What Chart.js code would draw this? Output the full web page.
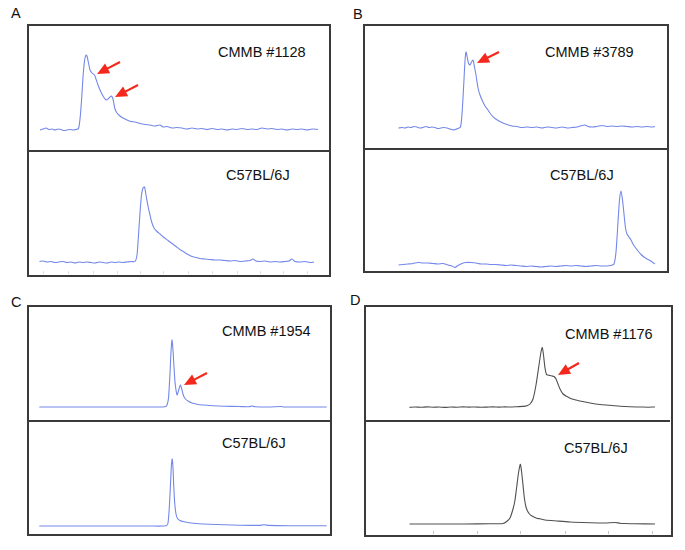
<!DOCTYPE html>
<html>
<head>
<meta charset="utf-8">
<script src="https://cdn.jsdelivr.net/npm/chart.js@4"></script>
<style>
  html, body { margin:0; padding:0; background:#fff; }
  #stage { position:relative; width:685px; height:550px; overflow:hidden; background:#fff;
           font-family: "Liberation Sans", Arial, sans-serif; color:#111; }
  .box { position:absolute; box-sizing:border-box; border:2px solid #3a3a3a; }
  .div { position:absolute; height:2px; background:#3a3a3a; }
  .lbl { position:absolute; font-size:14.5px; line-height:1; white-space:nowrap; }
  .let { position:absolute; font-size:14.5px; line-height:1; }
  canvas { position:absolute; }
</style>
</head>
<body>
<div id="stage">
  <div class="box" style="left:27px;top:24px;width:304px;height:253px"></div>
  <div class="div" style="left:27px;top:150px;width:304px"></div>
  <div class="box" style="left:363px;top:24px;width:306px;height:249px"></div>
  <div class="div" style="left:363px;top:148px;width:306px"></div>
  <div class="box" style="left:27px;top:305px;width:305px;height:231px"></div>
  <div class="div" style="left:27px;top:420px;width:305px"></div>
  <div class="box" style="left:364px;top:305px;width:309px;height:232px"></div>
  <div class="div" style="left:364px;top:420px;width:306px"></div>

  <div class="let" style="left:11px;top:6px">A</div>
  <div class="let" style="left:353px;top:7px">B</div>
  <div class="let" style="left:11px;top:295px">C</div>
  <div class="let" style="left:350px;top:293px">D</div>

  <div class="lbl" style="left:218px;top:45px">CMMB #1128</div>
  <div class="lbl" style="left:226px;top:168px">C57BL/6J</div>
  <div class="lbl" style="left:545px;top:45px">CMMB #3789</div>
  <div class="lbl" style="left:550px;top:168px">C57BL/6J</div>
  <div class="lbl" style="left:222px;top:324px">CMMB #1954</div>
  <div class="lbl" style="left:222px;top:436px">C57BL/6J</div>
  <div class="lbl" style="left:565px;top:327px">CMMB #1176</div>
  <div class="lbl" style="left:564px;top:441px">C57BL/6J</div>
</div>
<script>
// ---------- data (x = elution time units, y = signal units) ----------
const aTopX = [1.0,1.3,1.6,1.9,2.2,2.5,2.8,3.1,3.4,3.7,4.0,4.3,4.6,4.85,5.0,5.15,5.3,5.45,5.6,5.7,5.85,6.0,6.2,6.45,6.6,6.8,7.0,7.3,7.6,7.8,8.0,8.15,8.3,8.5,8.7,9.0,9.3,9.7,10.1,10.5,11.0,11.5,12.0,12.5,13.0,13.3,13.7,14.2,14.7,15.2,15.7,16.2,16.7,17.2,17.7,18.2,18.7,19.2,19.7,20.2,20.7,21.2,21.7,22.2,22.7,23.2,23.7,24.2,24.7,25.2,25.7,26.2,26.7,27.2,27.7,28.2,28.8];
const aTopY = [19,20,21,19.5,20,19,20,19.5,18.5,19,19.5,19,19.5,20.5,30,48,72,88,94,93,86,79,76,74,70,64,59,53,49,50,52,53,50,40,36,33,31,29,27.5,27,25.5,24.5,24,23,24,22,22.5,21,21.5,21,20,21,20,20.5,19.5,20.5,19.5,20,19,20,19.5,20.5,19.5,20,19.5,21,20,20.5,19.5,20,19,20,19.5,20,19,20,19.5];

const aBotX = [0.95,1.3,1.7,2.1,2.5,2.9,3.3,3.7,4.1,4.5,4.9,5.3,5.7,6.1,6.5,6.9,7.3,7.7,8.1,8.5,8.9,9.3,9.7,10.1,10.5,10.7,10.85,11.0,11.15,11.3,11.45,11.6,11.8,12.0,12.2,12.4,12.7,13.0,13.4,13.8,14.2,14.6,15.0,15.4,15.8,16.2,16.6,17.0,17.5,18.0,18.5,19.0,19.5,20.0,20.5,21.0,21.5,22.0,22.3,22.6,23.0,23.5,24.0,24.5,25.0,25.5,25.9,26.2,26.5,27.0,27.5,28.0,28.4];
const aBotY = [13.5,14,13,13.5,12.5,13,13.5,12.5,13,12,13,12.5,13,12.5,12,13,12.5,12,13,12.5,13,12.5,13,13.5,13.5,20,40,62,80,87,88,80,69,60,52,47,43.5,41,37.5,34.5,31.5,28.5,25.5,23,20.5,18.5,17.5,16.5,16,15.5,15,15,14.5,14,14.5,13.5,14,14.5,16,14,13.5,14,13,13.5,13,13.5,14,16,13.5,13,13.5,12.5,13];
const aBotTicks = [1.3,3.8,6.3,8.7,11.0,13.3,15.8,18.2,20.7,23.0,25.3,27.7];

const bTopX = [3.35,3.7,4.0,4.3,4.6,4.9,5.2,5.5,5.8,6.1,6.4,6.7,7.0,7.3,7.6,7.9,8.2,8.5,8.8,9.0,9.3,9.55,9.7,9.85,10.0,10.1,10.2,10.35,10.5,10.65,10.8,10.95,11.1,11.3,11.5,11.75,12.0,12.3,12.6,13.0,13.4,13.8,14.2,14.7,15.2,15.7,16.2,16.7,17.2,17.7,18.2,18.7,19.2,19.7,20.2,20.7,21.2,21.7,22.0,22.3,22.7,23.2,23.7,24.2,24.7,25.2,25.7,26.2,26.7,27.2,27.7,28.2,28.7,29.0];
const bTopY = [21,21.5,21,22,21.5,22.5,22,21,21.5,22.5,21.5,22,21.5,20.5,21,21.5,21,20,19,19.5,20.5,22,35,60,88,97,93,86,84,87,89,82,74,61,54,48,43,39,34.5,30.5,28,26,24.5,23,22.5,21.5,22,21.5,22,21,22,21.5,21,22,21,21.5,22,23.5,24,22.5,22,22.5,23.5,22.5,23,22.5,23,22.5,22,22.5,22,22.5,22,22.5];

const bBotX = [3.35,3.8,4.3,4.8,5.3,5.8,6.3,6.8,7.3,7.8,8.3,8.7,9.0,9.3,9.7,10.1,10.6,11.1,11.6,12.1,12.6,13.1,13.6,14.1,14.6,15.1,15.6,16.1,16.6,17.1,17.6,18.1,18.6,19.1,19.6,20.1,20.6,21.1,21.6,22.1,22.6,23.1,23.6,24.1,24.6,24.9,25.1,25.3,25.45,25.6,25.75,25.9,26.05,26.2,26.4,26.6,26.8,27.0,27.3,27.6,27.9,28.2,28.5,28.8,29.0];
const bBotY = [7,7.5,8,8.5,9.5,9,9,8.5,8,8.5,7,6,4.5,6.5,8.5,9.5,9.5,9,8,8,7.5,7.5,7,6.5,7,6.5,6,5.5,6,5.5,5,5.5,6,5.5,6,6.5,6,6.5,6,5.5,6,6.5,6,6,6.5,8,20,50,72,81,72,58,44,38,35,32,28,25,21,17.5,15,13,11.5,9.5,8];

const cTopX = [1.03,5,9,12,13.6,13.8,13.95,14.1,14.2,14.3,14.4,14.5,14.6,14.7,14.82,15.0,15.13,15.25,15.43,15.6,15.9,16.3,16.8,17.4,18.4,19.5,21.0,22.0,22.3,22.6,24.0,25.2,25.5,27.0,29.77];
const cTopY = [13,13,13,13,13.2,15,22,47,68,80,70,53,38,30,25,31,35,32,25,21.5,19,17,15.8,15,14.3,13.8,13.5,13.3,14,13.3,13,13.5,13,13,13];

const cBotX = [1.03,5,9,12,13.7,13.9,14.05,14.15,14.25,14.32,14.4,14.48,14.58,14.7,14.85,15.1,15.5,16.0,17.0,18.0,19.5,21.0,23.0,23.5,24.0,26.0,29.77];
const cBotY = [8,8,8,8,8.2,11,30,50,70,75,66,47,30,20,15.5,13.5,12.2,11.2,10.2,9.7,9.2,8.8,8.6,9.2,8.6,8.3,8.2];

const dTopX = [4.45,5.0,5.6,6.2,6.8,7.4,8.0,8.6,9.2,9.8,10.4,11.0,11.6,12.2,12.8,13.4,14.0,14.6,15.2,15.8,16.2,16.5,16.8,17.1,17.4,17.6,17.73,17.85,18.0,18.15,18.3,18.5,18.7,18.9,19.1,19.3,19.5,19.8,20.2,20.7,21.5,22.5,23.5,24.5,25.5,26.5,27.5,28.3,29.0];
const dTopY = [12.6,13.0,12.7,13.1,12.8,13.0,12.6,13.0,12.8,13.1,12.9,13.0,12.7,12.9,13.1,12.9,13.1,13.0,13.3,13.6,14.3,16,21,35,55,68,72.5,65,52,45.5,45,44.5,44,43.5,41,36,31,26,23.5,21,19,17,15.5,14.8,13.8,13.2,13,12.8,13];

const dBotX = [4.45,7,10,12.5,13.8,14.17,14.5,14.83,15.0,15.17,15.35,15.53,15.65,15.8,15.95,16.1,16.25,16.45,16.7,17.17,17.5,18.0,19.17,20.5,22.5,24.0,25.0,25.5,26.0,27.0,29.0];
const dBotY = [11,11,11,11.2,11.5,13.5,17,27,35,48,62,70.7,64,50,36,28,24,21,19,16.8,16.2,15,14,13,12.3,12,12.5,11.8,11.5,11.2,11];
const dBotTicks = [6.8,11.2,15.5,20.0,24.3,28.7];

// arrow annotations: [tailX, tailY, tipX, tipY] in data units
const aTopArrows = [[9.0,87,6.7,75],[10.8,64,8.5,52]];
const bTopArrows = [[13.4,97,11.2,86]];
const cTopArrows = [[17.8,47,15.5,35]];
const dTopArrows = [[21.4,57,19.3,45]];

const BLUE = '#7388e9';
const GRAY = '#505050';

const panels = [
  {left:30,  top:26,  w:300, h:123, xs:aTopX, ys:aTopY, color:BLUE, arrows:aTopArrows},
  {left:30,  top:152, w:300, h:123, xs:aBotX, ys:aBotY, color:BLUE, ticks:aBotTicks, tickColor:'#e0e0e0'},
  {left:365, top:26,  w:302, h:123, xs:bTopX, ys:bTopY, color:BLUE, arrows:bTopArrows},
  {left:365, top:151, w:302, h:121, xs:bBotX, ys:bBotY, color:BLUE},
  {left:29,  top:308, w:302, h:112, xs:cTopX, ys:cTopY, color:BLUE, arrows:cTopArrows},
  {left:29,  top:422, w:302, h:112, xs:cBotX, ys:cBotY, color:BLUE},
  {left:365, top:308, w:306, h:112, xs:dTopX, ys:dTopY, color:GRAY, arrows:dTopArrows},
  {left:365, top:422, w:306, h:113, xs:dBotX, ys:dBotY, color:GRAY, ticks:dBotTicks, tickColor:'#c4c4c4'}
];

const annotPlugin = {
  id: 'annot',
  afterDatasetsDraw(chart, args, opts) {
    const ctx = chart.ctx, xs = chart.scales.x, ys = chart.scales.y;
    ctx.save();
    (opts.ticks || []).forEach(v => {
      const px = Math.round(xs.getPixelForValue(v)) + 0.5;
      ctx.strokeStyle = opts.tickColor || '#ccc';
      ctx.lineWidth = 1;
      ctx.beginPath();
      ctx.moveTo(px, ys.getPixelForValue(0) - 1);
      ctx.lineTo(px, ys.getPixelForValue(0) - 4);
      ctx.stroke();
    });
    (opts.arrows || []).forEach(a => {
      const x0 = xs.getPixelForValue(a[0]), y0 = ys.getPixelForValue(a[1]);
      const x1 = xs.getPixelForValue(a[2]), y1 = ys.getPixelForValue(a[3]);
      const ang = Math.atan2(y1 - y0, x1 - x0);
      const hl = 12, hw = 5.5;
      const bx = x1 - hl * Math.cos(ang), by = y1 - hl * Math.sin(ang);
      ctx.strokeStyle = '#f4281c';
      ctx.fillStyle = '#f4281c';
      ctx.lineWidth = 2.2;
      ctx.lineCap = 'butt';
      ctx.beginPath();
      ctx.moveTo(x0, y0);
      ctx.lineTo(bx + 2 * Math.cos(ang), by + 2 * Math.sin(ang));
      ctx.stroke();
      ctx.beginPath();
      ctx.moveTo(x1, y1);
      ctx.lineTo(bx + hw * Math.sin(ang), by - hw * Math.cos(ang));
      ctx.lineTo(bx - hw * Math.sin(ang), by + hw * Math.cos(ang));
      ctx.closePath();
      ctx.fill();
    });
    ctx.restore();
  }
};

const stage = document.getElementById('stage');
panels.forEach(p => {
  const c = document.createElement('canvas');
  c.width = p.w; c.height = p.h;
  c.style.left = p.left + 'px'; c.style.top = p.top + 'px';
  c.style.width = p.w + 'px'; c.style.height = p.h + 'px';
  stage.appendChild(c);
  new Chart(c, {
    type: 'line',
    data: {
      datasets: [{
        data: p.xs.map((x, i) => ({x: x, y: p.ys[i]})),
        borderColor: p.color,
        borderWidth: 1.1,
        pointRadius: 0,
        tension: 0.25,
        fill: false,
        clip: false
      }]
    },
    options: {
      responsive: false,
      animation: false,
      devicePixelRatio: 1,
      layout: { padding: 0 },
      scales: {
        x: { type: 'linear', min: 0, max: p.w / 10, display: false },
        y: { type: 'linear', min: 0, max: p.h, display: false }
      },
      plugins: {
        legend: { display: false },
        tooltip: { enabled: false },
        annot: { arrows: p.arrows || [], ticks: p.ticks || [], tickColor: p.tickColor }
      }
    },
    plugins: [annotPlugin]
  });
});
</script>
</body>
</html>
